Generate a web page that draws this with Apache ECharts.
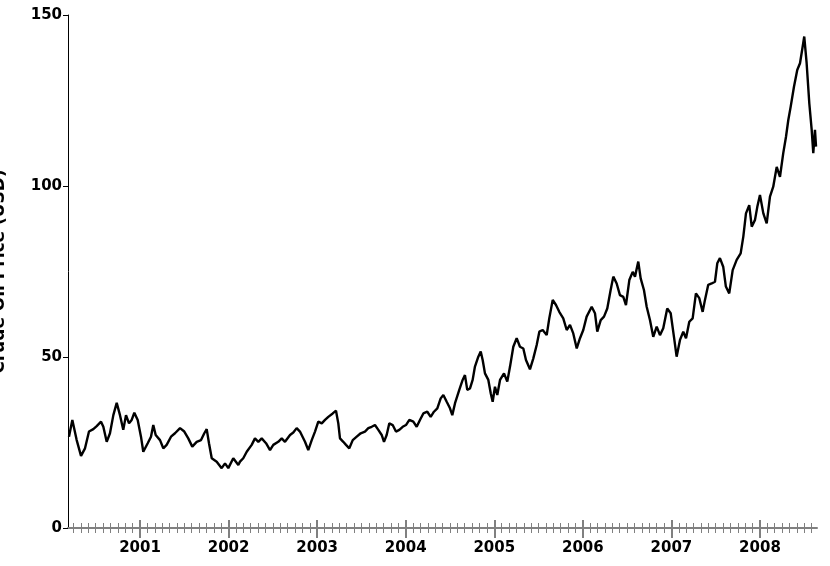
<!DOCTYPE html>
<html>
<head>
<meta charset="utf-8">
<script src="https://cdn.jsdelivr.net/npm/echarts@6/dist/echarts.min.js"></script>
<style>
html,body{margin:0;padding:0;background:#fff;}
#chart{width:830px;height:566px;}
</style>
</head>
<body>
<div id="chart"></div>
<script>
// Decimal-year positions of the traced points
var years = [
2000.198,2000.236,2000.285,2000.334,2000.379,2000.424,2000.473,2000.511,2000.560,2000.586,
2000.624,2000.661,2000.699,2000.737,2000.774,2000.811,2000.842,2000.876,2000.906,2000.936,
2000.974,2001.011,2001.037,2001.087,2001.124,2001.150,2001.177,2001.226,2001.263,2001.301,
2001.350,2001.395,2001.452,2001.500,2001.545,2001.590,2001.640,2001.689,2001.726,2001.753,
2001.779,2001.810,2001.866,2001.922,2001.960,2001.997,2002.053,2002.110,2002.129,2002.166,
2002.205,2002.261,2002.298,2002.336,2002.374,2002.423,2002.468,2002.505,2002.561,2002.600,
2002.637,2002.694,2002.731,2002.769,2002.806,2002.863,2002.900,2002.939,2002.976,2003.013,
2003.052,2003.089,2003.126,2003.176,2003.213,2003.239,2003.258,2003.295,2003.326,2003.363,
2003.402,2003.447,2003.492,2003.540,2003.578,2003.616,2003.653,2003.691,2003.729,2003.755,
2003.785,2003.815,2003.853,2003.890,2003.928,2003.966,2004.003,2004.041,2004.086,2004.124,
2004.161,2004.199,2004.244,2004.282,2004.319,2004.357,2004.395,2004.425,2004.463,2004.500,
2004.526,2004.557,2004.605,2004.643,2004.669,2004.695,2004.726,2004.756,2004.782,2004.820,
2004.847,2004.869,2004.895,2004.933,2004.960,2004.982,2005.008,2005.034,2005.065,2005.110,
2005.147,2005.178,2005.215,2005.253,2005.290,2005.328,2005.358,2005.403,2005.441,2005.479,
2005.509,2005.547,2005.592,2005.621,2005.660,2005.697,2005.734,2005.779,2005.818,2005.855,
2005.892,2005.931,2005.968,2006.005,2006.043,2006.100,2006.137,2006.163,2006.202,2006.239,
2006.276,2006.314,2006.344,2006.382,2006.419,2006.457,2006.487,2006.525,2006.563,2006.589,
2006.626,2006.653,2006.690,2006.721,2006.758,2006.795,2006.834,2006.871,2006.908,2006.953,
2006.992,2007.029,2007.059,2007.097,2007.134,2007.165,2007.202,2007.240,2007.277,2007.315,
2007.353,2007.379,2007.416,2007.455,2007.492,2007.518,2007.548,2007.585,2007.615,2007.653,
2007.692,2007.737,2007.782,2007.812,2007.842,2007.879,2007.907,2007.944,2007.970,2008.000,
2008.038,2008.076,2008.113,2008.150,2008.189,2008.226,2008.263,2008.294,2008.320,2008.347,
2008.384,2008.421,2008.452,2008.482,2008.500,2008.527,2008.557,2008.584,2008.602,2008.621,
2008.633
];
// Crude oil price (USD) at those points
var prices = [
26.7,31.6,25.7,21.1,23.3,28.2,28.9,29.8,31.1,29.6,
25.2,27.7,33.0,36.6,33.0,28.7,33.0,30.6,31.6,33.7,
31.6,26.7,22.3,24.8,26.7,30.1,27.2,25.7,23.3,24.3,
26.7,27.7,29.2,28.2,26.2,23.8,25.2,25.7,27.7,28.9,
24.8,20.4,19.4,17.5,18.9,17.5,20.4,18.4,19.4,20.4,
22.3,24.3,26.2,25.2,26.2,24.8,22.8,24.3,25.2,26.2,
25.2,27.2,27.9,29.2,28.2,25.2,22.8,25.7,28.2,31.1,
30.6,31.6,32.5,33.5,34.3,30.6,26.2,25.2,24.3,23.3,
25.7,26.7,27.7,28.2,29.2,29.6,30.1,28.7,27.2,25.2,
27.2,30.6,30.1,28.2,28.7,29.6,30.1,31.6,31.1,29.6,
31.6,33.5,34.0,32.5,34.0,35.0,37.9,38.9,36.9,35.0,
33.0,36.5,40.4,43.3,44.7,40.4,40.8,43.3,47.2,50.1,
51.6,49.1,45.2,43.3,39.4,36.9,41.3,38.9,43.3,45.2,
42.8,47.2,53.0,55.5,53.0,52.5,49.1,46.4,49.6,53.5,
57.4,57.9,56.4,61.3,66.7,65.2,63.2,61.3,57.9,59.4,
56.9,52.5,55.5,57.9,61.8,64.7,62.8,57.4,60.8,61.8,
64.2,69.6,73.5,71.5,68.1,67.6,65.2,72.5,74.9,73.5,
77.9,73.0,69.6,64.7,60.8,55.9,58.9,56.4,58.4,64.2,
62.8,55.9,50.1,55.0,57.4,55.5,60.3,61.3,68.6,67.2,
63.2,66.7,71.1,71.5,72.0,77.4,78.9,76.4,70.6,68.6,
75.4,78.4,80.3,85.2,92.0,94.4,88.1,90.1,93.9,97.4,
92.0,89.1,96.9,99.8,105.6,102.7,109.6,114.4,119.3,123.2,
129.0,133.9,135.9,140.7,143.7,135.9,124.2,116.4,109.6,116.4,
111.5
];
var yearTicks = [2001, 2002, 2003, 2004, 2005, 2006, 2007, 2008];
var yTicks = [0, 50, 100, 150];
var yTitle = 'Crude Oil Price (USD)';

var xMin = 2000.187, xMax = 2008.644;
var monthTicks = [];
for (var y = 2000; y <= 2008; y++) {
  for (var m = 1; m < 12; m++) {
    var v = y + m / 12;
    if (v > xMin && v < xMax) monthTicks.push(+v.toFixed(4));
  }
}
var seriesData = years.map(function (t, i) { return [t, prices[i]]; });

var fontFam = '"DejaVu Sans", Verdana, sans-serif';
var tickGrey = '#808080';
function tickAxis(values, len, width, inside) {
  return {
    type: 'value', min: xMin, max: xMax, position: 'bottom', offset: 0,
    axisLine: { show: false }, splitLine: { show: false },
    axisLabel: { show: false },
    axisTick: { show: true, customValues: values, length: len, inside: inside,
      lineStyle: { color: tickGrey, width: width } }
  };
}

var chart = echarts.init(document.getElementById('chart'), null, { renderer: 'canvas' });
chart.setOption({
  animation: false,
  backgroundColor: '#ffffff',
  grid: { left: 68, right: 13, top: 15, bottom: 38, containLabel: false, outerBoundsMode: 'none' },
  xAxis: [
    {
      type: 'value', min: xMin, max: xMax, position: 'bottom',
      axisLine: { show: true, lineStyle: { color: tickGrey, width: 2 } },
      axisTick: { show: true, customValues: yearTicks, length: 10,
        lineStyle: { color: tickGrey, width: 2 } },
      axisLabel: { show: true, customValues: yearTicks, margin: 13,
        color: '#000', fontFamily: fontFam, fontWeight: 'bold', fontSize: 15,
        formatter: function (v) { return String(Math.round(v)); } },
      splitLine: { show: false }
    },
    tickAxis(yearTicks, 8, 2, true),
    tickAxis(monthTicks, 5, 1, false),
    tickAxis(monthTicks, 5, 1, true)
  ],
  yAxis: {
    type: 'value', min: 0, max: 150, interval: 50,
    name: yTitle, nameLocation: 'middle', nameGap: 60,
    nameTextStyle: { color: '#000', fontFamily: fontFam, fontWeight: 'bold', fontSize: 17 },
    axisLine: { show: true, lineStyle: { color: '#000', width: 1 } },
    axisTick: { show: true, length: 5, lineStyle: { color: '#000', width: 1 } },
    axisLabel: { color: '#000', fontFamily: fontFam, fontWeight: 'bold', fontSize: 15, margin: 6,
      customValues: yTicks },
    splitLine: { show: false }
  },
  series: [{
    type: 'line', xAxisIndex: 0, yAxisIndex: 0,
    data: seriesData, showSymbol: false, symbol: 'none',
    lineStyle: { color: '#000', width: 2.4 }, clip: false
  }]
});
</script>
</body>
</html>
